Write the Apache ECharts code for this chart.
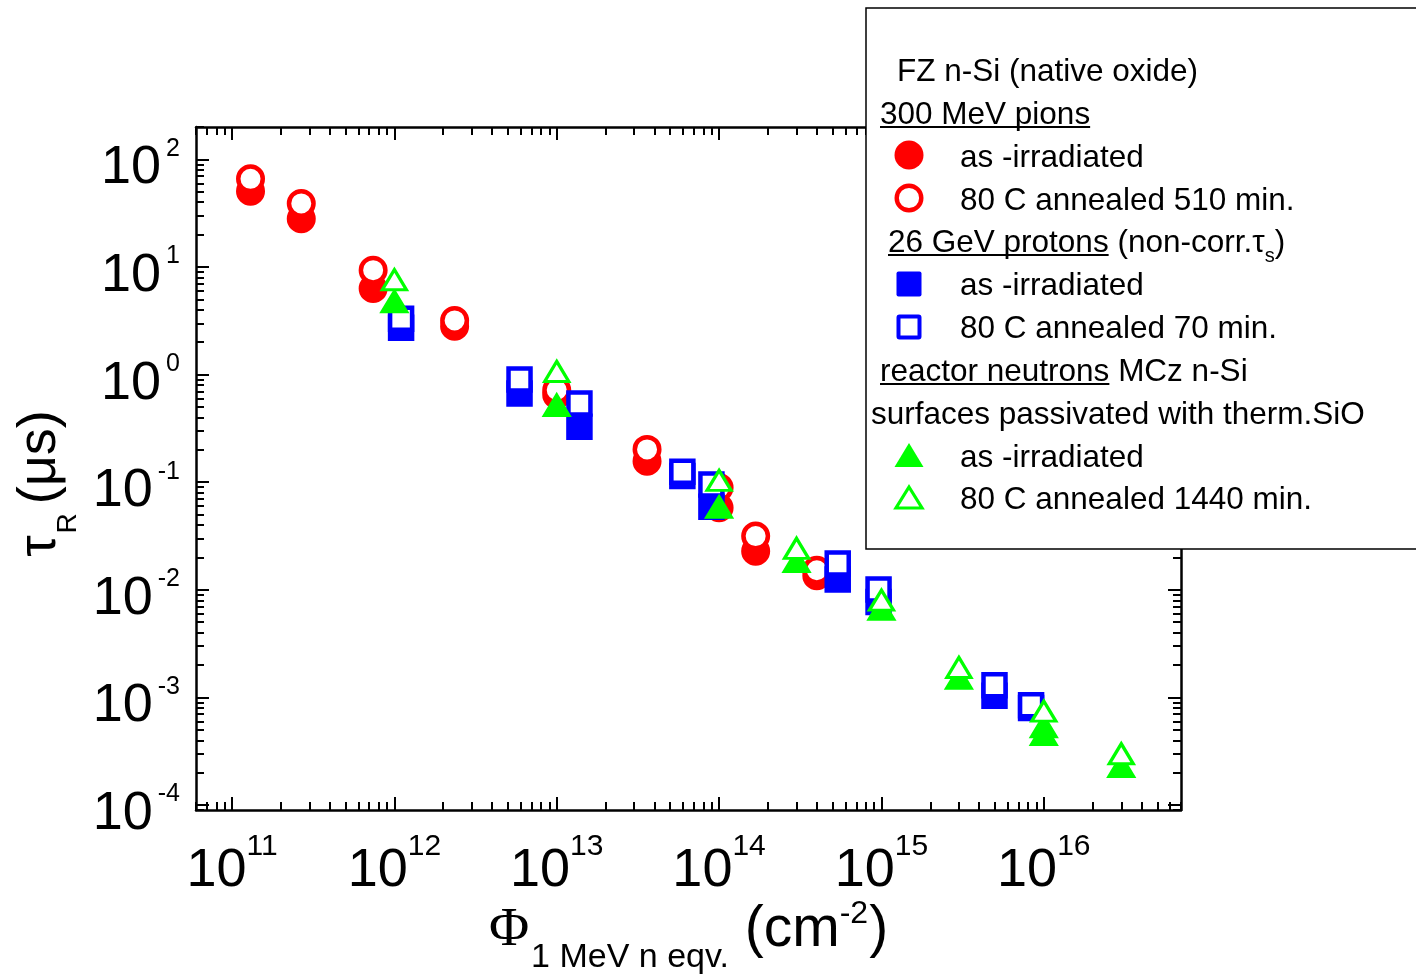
<!DOCTYPE html>
<html><head><meta charset="utf-8">
<script src="https://cdn.jsdelivr.net/npm/echarts@6/dist/echarts.min.js"></script>
<style>html,body{margin:0;padding:0;background:#fff}#c{width:1416px;height:975px}</style>
</head><body><div id="c"></div>
<script>
// ---------- data ----------
const xTickExponents = [11, 12, 13, 14, 15, 16];
const yTickExponents = [-4, -3, -2, -1, 0, 1, 2];
const xRange = [6e10, 7e16];
const yRange = [9e-5, 200];

// 300 MeV pions (FZ n-Si)
const pionFluence = [1.30e11, 2.67e11, 7.4e11, 2.35e12, 1.0e13, 3.6e13, 1.0e14, 1.68e14, 4.0e14];
const pionTauIrr  = [50.7, 28.1, 6.3, 2.82, 0.65, 0.157, 0.058, 0.0229, 0.0135];
const pionTauAnn  = [66, 39, 9.35, 3.19, 0.72, 0.202, 0.0895, 0.0316, 0.0152];
// 26 GeV protons
const protonFluence = [1.10e12, 5.9e12, 1.38e13, 5.94e13, 8.97e13, 5.38e14, 9.6e14, 4.97e15, 8.35e15];
const protonTauIrr  = [2.73, 0.668, 0.328, 0.114, 0.0591, 0.0125, 0.0077, 0.00104, 0.0008];
const protonTauAnn  = [3.31, 0.90, 0.54, 0.125, 0.0955, 0.0176, 0.0101, 0.0013, 0.000847];
// reactor neutrons (MCz n-Si)
const neutronFluenceIrr = [1e12, 1e13, 1e14, 3e14, 1e15, 3e15, 1e16, 1e16, 3e16];
const neutronTauIrr     = [4.76, 0.518, 0.0586, 0.0184, 0.00662, 0.00151, 0.000535, 0.000453, 0.000229];
const neutronFluenceAnn = [1e12, 1e13, 1e14, 3e14, 1e15, 3e15, 1e16, 3e16];
const neutronTauAnn     = [7.62, 1.07, 0.104, 0.0243, 0.00802, 0.0019, 0.000746, 0.0003];

// ---------- helpers ----------
const FONT = 'Liberation Sans, Arial, sans-serif';
const lg = Math.log10;
const pts = (xs, ys) => xs.map((x, i) => [lg(x), lg(ys[i])]);
const X0 = lg(xRange[0]), X1 = lg(xRange[1]);
const Y0 = lg(yRange[0]), Y1 = lg(yRange[1]);

function minorTicks(lo, hi) {
  const out = [];
  for (let e = Math.floor(lo); e <= Math.ceil(hi); e++) {
    for (let m = 2; m <= 9; m++) {
      const v = e + lg(m);
      if (v >= lo - 1e-9 && v <= hi + 1e-9) out.push(v);
    }
  }
  return out;
}
const xMinor = minorTicks(X0, X1), yMinor = minorTicks(Y0, Y1);

function axis(dim, pos, major, main) {
  const isX = dim === 'x';
  const a = {
    type: 'value', position: pos,
    min: isX ? X0 : Y0, max: isX ? X1 : Y1,
    splitLine: { show: false },
    axisLine: { show: major, onZero: false, lineStyle: { color: '#000', width: 2.5 } },
    axisTick: {
      show: true, inside: true, length: major ? 13 : 8,
      customValues: major ? (isX ? xTickExponents : yTickExponents) : (isX ? xMinor : yMinor),
      lineStyle: { color: '#000', width: 2 }
    },
    axisLabel: { show: false },
    silent: true
  };
  if (main && isX) {
    a.axisLabel = {
      show: true, customValues: xTickExponents, margin: 22,
      formatter: v => '{b|10}{s|' + v + '}',
      rich: {
        b: { fontSize: 54, fontFamily: FONT, color: '#000', verticalAlign: 'bottom', padding: [12, 0, 0, 0] },
        s: { fontSize: 30, fontFamily: FONT, color: '#000', verticalAlign: 'top' }
      }
    };
    a.name = '{phi|Φ}{sub|1 MeV n eqv.}{big| (cm}{sup|-2}{big|)}';
    a.nameLocation = 'middle';
    a.nameGap = 88;
    a.nameMoveOverlap = false;
    a.nameTextStyle = {
      padding: [0, 0, 0, 0],
      rich: {
        phi: { fontSize: 55, fontFamily: 'Liberation Serif, Times New Roman, serif', verticalAlign: 'bottom', padding: [0, 2, 17, 0], color: '#000' },
        sub: { fontSize: 34, fontFamily: FONT, verticalAlign: 'bottom', color: '#000' },
        big: { fontSize: 57, fontFamily: FONT, verticalAlign: 'bottom', padding: [0, 0, 16, 0], color: '#000' },
        sup: { fontSize: 32, fontFamily: FONT, verticalAlign: 'bottom', padding: [0, 1, 45, 0], color: '#000' }
      }
    };
  }
  if (main && !isX) {
    a.axisLabel = {
      show: true, customValues: yTickExponents, margin: 16, padding: [13, 0, 0, 0],
      formatter: v => '{b|10}{s|' + v + '}',
      rich: {
        b: { fontSize: 54, fontFamily: FONT, color: '#000', verticalAlign: 'bottom', padding: [5, 0, 0, 0] },
        s: { fontSize: 25, fontFamily: FONT, color: '#000', verticalAlign: 'top', padding: [0, 0, 0, 5] }
      }
    };
    a.name = '{t|τ}{r|R}{t|(μs)}';
    a.nameLocation = 'middle';
    a.nameGap = 114;
    a.nameMoveOverlap = false;
    a.nameTextStyle = {
      padding: [0, 30, 0, 0],
      rich: {
        t: { fontSize: 54, fontFamily: FONT, verticalAlign: 'bottom', padding: [0, 0, 15, 0], color: '#000' },
        r: { fontSize: 28, fontFamily: FONT, verticalAlign: 'bottom', padding: [0, 9, 0, 2], color: '#000' }
      }
    };
  }
  return a;
}

const RED = '#ff0000', BLUE = '#0000ff', GREEN = '#00ff00';
function series(data, symbol, size, color, filled, bw) {
  return {
    type: 'scatter', xAxisIndex: 0, yAxisIndex: 0, data: data,
    symbol: symbol, symbolSize: size, clip: false, silent: true,
    itemStyle: { color: filled ? color : '#ffffff', borderColor: color, borderWidth: bw, opacity: 1 },
    emphasis: { disabled: true }
  };
}

// ---------- legend (graphic) ----------
const LFS = 31.5;
const ctx = document.createElement('canvas').getContext('2d');
ctx.font = LFS + 'px Liberation Sans';
const tw = s => ctx.measureText(s).width;
const LF = LFS + 'px ' + FONT;
const g = [];
g.push({ type: 'rect', z: 100, shape: { x: 866, y: 8, width: 600, height: 541 }, style: { fill: '#fff', stroke: '#000', lineWidth: 1.5 } });
function txt(x, y, text, extra) {
  g.push({ type: 'text', z: 101, x: x, y: y, style: Object.assign({ text: text, font: LF, fill: '#000', verticalAlign: 'middle' }, extra || {}) });
}
function underline(x, y, w) {
  g.push({ type: 'line', z: 101, shape: { x1: x, y1: y, x2: x + w, y2: y }, style: { stroke: '#000', lineWidth: 2 } });
}
const dy = 2;
txt(897, 70 + dy, 'FZ n-Si (native oxide)');
txt(880, 113 + dy, '300 MeV pions'); underline(880, 127, tw('300 MeV pions'));
g.push({ type: 'circle', z: 101, shape: { cx: 909, cy: 155, r: 14.5 }, style: { fill: RED } });
txt(960, 156 + dy, 'as -irradiated');
g.push({ type: 'circle', z: 101, shape: { cx: 909, cy: 198, r: 12.3 }, style: { fill: '#fff', stroke: RED, lineWidth: 4.4 } });
txt(960, 199 + dy, '80 C annealed 510 min.');
txt(888, 241 + dy + 3.6, '{n|26 GeV protons (non-corr.τ}{s|s}{n|)}', {
  rich: {
    n: { font: LF, fill: '#000', verticalAlign: 'top' },
    s: { font: '20px ' + FONT, fill: '#000', verticalAlign: 'bottom', padding: [19, 0, 0, 0] }
  }
});
underline(888, 255, tw('26 GeV protons'));
g.push({ type: 'rect', z: 101, shape: { x: 896.5, y: 271.5, width: 25, height: 25, r: 2 }, style: { fill: BLUE } });
txt(960, 284 + dy, 'as -irradiated');
g.push({ type: 'rect', z: 101, shape: { x: 898.5, y: 316.5, width: 21, height: 21, r: 1 }, style: { fill: '#fff', stroke: BLUE, lineWidth: 4 } });
txt(960, 327 + dy, '80 C annealed 70 min.');
txt(880, 370 + dy, 'reactor neutrons MCz n-Si'); underline(880, 384, tw('reactor neutrons'));
txt(871, 413 + dy, 'surfaces passivated with therm.SiO');
g.push({ type: 'polygon', z: 101, shape: { points: [[909, 443], [923.5, 467], [894.5, 467]] }, style: { fill: GREEN } });
txt(960, 456 + dy, 'as -irradiated');
g.push({ type: 'polygon', z: 101, shape: { points: [[909, 487], [922, 508], [896, 508]] }, style: { fill: '#fff', stroke: GREEN, lineWidth: 3.2, lineJoin: 'miter' } });
txt(960, 498 + dy, '80 C annealed 1440 min.');

const option = {
  animation: false,
  backgroundColor: '#fff',
  grid: { left: 196, top: 127, width: 985, height: 683, outerBoundsMode: 'none', containLabel: false },
  xAxis: [axis('x', 'bottom', true, true), axis('x', 'bottom', false, false), axis('x', 'top', true, false), axis('x', 'top', false, false)],
  yAxis: [axis('y', 'left', true, true), axis('y', 'left', false, false), axis('y', 'right', true, false), axis('y', 'right', false, false)],
  series: [
    series(pts(pionFluence, pionTauIrr), 'circle', 24.5, RED, true, 4.5),
    series(pts(pionFluence, pionTauAnn), 'circle', 24.5, RED, false, 4.5),
    series(pts(protonFluence, protonTauIrr), 'rect', 22, BLUE, true, 4.5),
    series(pts(protonFluence, protonTauAnn), 'rect', 22, BLUE, false, 4.5),
    series(pts(neutronFluenceIrr, neutronTauIrr), 'triangle', [24, 20], GREEN, true, 3.5),
    series(pts(neutronFluenceAnn, neutronTauAnn), 'triangle', [24, 20], GREEN, false, 3.2)
  ],
  graphic: { elements: g }
};
const chart = echarts.init(document.getElementById('c'), null, { renderer: 'canvas' });
chart.setOption(option);
</script>
</body></html>
